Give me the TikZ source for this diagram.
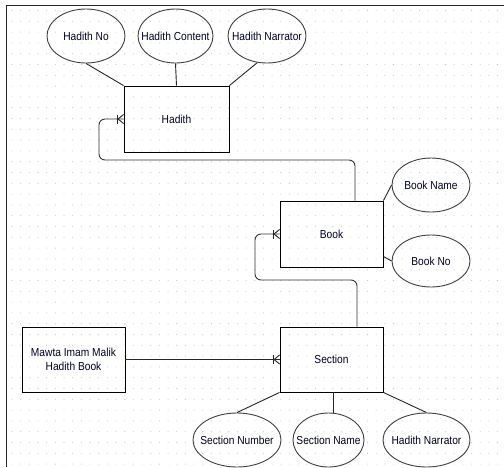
\documentclass[tikz,border=0pt]{standalone}
\usepackage{fontspec}
\setmainfont{Liberation Sans}[FakeStretch=0.88]
\usetikzlibrary{shapes.geometric,calc}
\tikzset{
  attr/.style={ellipse, draw=black!75, line width=0.9pt, inner sep=0pt, font=\fontsize{11.6}{13.5}\selectfont, text=black!85!blue},
  entity/.style={rectangle, draw=black, line width=0.9pt, inner sep=0pt, font=\fontsize{11.6}{13.5}\selectfont, text=black!85!blue, align=center},
  link/.style={draw=black!85, line width=0.9pt},
  conn/.style={draw=black!80, line width=0.9pt, rounded corners=6pt},
}
\newcommand\crowfoot[1]{%
  \draw[link] ($(#1)+(-6,-4.5)$) -- ($(#1)+(-6,4.5)$);
  \draw[link] ($(#1)+(-5.5,0)$) -- ($(#1)+(0,-4.5)$);
  \draw[link] ($(#1)+(-5.5,0)$) -- ($(#1)+(0,4.5)$);
}
\newcommand\lbl[1]{\makebox[0pt]{#1}}
\begin{document}
\begin{tikzpicture}[x=1pt,y=-1pt]
\useasboundingbox (0,0) rectangle (504,467);
\fill[white] (0,0) rectangle (504,467);
% dot grid
\foreach \i in {0,...,57} {
  \foreach \j in {0,...,42} {
    \fill[black!22] ({12+\i*8.67},{10.5+\j*10.8}) circle (0.55);
  }
}
% frame
\draw[black!85, line width=1.5pt] (6.5,467) -- (6.5,5.5) -- (504,5.5);

% Hadith
\node[attr, minimum width=78pt, minimum height=54pt] (hno) at (86,36) {\lbl{Hadith No}};
\node[attr, minimum width=75pt, minimum height=54pt] (hcont) at (175.5,36) {\lbl{Hadith Content}};
\node[attr, minimum width=78pt, minimum height=54pt] (hnarr) at (267,36) {\lbl{Hadith Narrator}};
\node[entity, minimum width=105pt, minimum height=66pt] (hadith) at (176.5,119) {Hadith};
\draw[link] (hno.south) -- (hadith.north west);
\draw[link] (hcont.south) -- (hadith.north);
\draw[link] (hnarr.250) -- (hadith.north east);

% Book
\node[entity, minimum width=103pt, minimum height=66pt] (book) at (331.5,234) {Book};
\node[attr, minimum width=78pt, minimum height=54pt] (bname) at (431,185) {\lbl{Book Name}};
\node[attr, minimum width=78pt, minimum height=52pt] (bno) at (431,261) {\lbl{Book No}};
\draw[link] (book.north east) -- (bname.west);
\draw[link] ($(book.south east)+(0,-11)$) -- (bno.west);

% Section
\node[entity, minimum width=103pt, minimum height=65pt] (section) at (331.5,359.5) {Section};
\node[entity, minimum width=103pt, minimum height=65pt] (mawta) at (73.5,359.5) {Mawta Imam Malik\\Hadith Book};
\node[attr, minimum width=88pt, minimum height=54pt] (snum) at (237,440) {\lbl{Section Number}};
\node[attr, minimum width=71pt, minimum height=54pt] (sname) at (328.5,440) {\lbl{Section Name}};
\node[attr, minimum width=87pt, minimum height=54pt] (snarr) at (426.5,440) {\lbl{Hadith Narrator}};
\draw[link] (section.south west) -- (snum.north);
\draw[link] ($(section.south)+(2,0)$) -- ($(sname.north)+(5,0.8)$);
\draw[link] (section.south east) -- (snarr.north);

% connectors
\draw[conn] ($(book.north)+(23.5,0)$) |- (99,160) |- (hadith.west);
\crowfoot{hadith.west}
\draw[conn] ($(section.north)+(25.5,0)$) |- (255,280) |- (book.west);
\crowfoot{book.west}
\draw[link] (mawta.east) -- (section.west);
\crowfoot{section.west}
\end{tikzpicture}
\end{document}
